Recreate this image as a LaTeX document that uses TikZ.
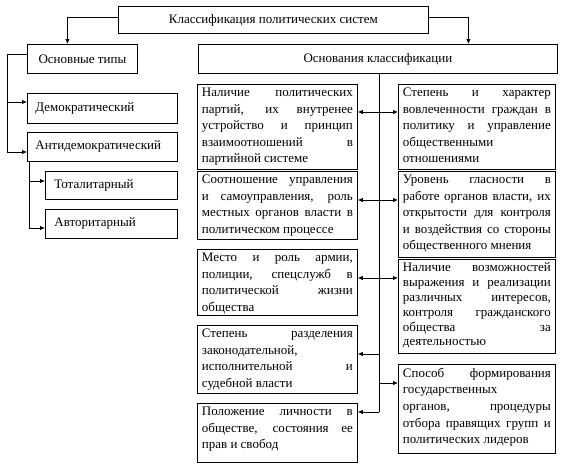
\documentclass[tikz,border=0pt]{standalone}
\usepackage{fontspec}
\setmainfont{Liberation Serif}
\usetikzlibrary{arrows.meta}
\newcommand\jl[1]{\makebox[\linewidth][s]{#1}\\}
\newcommand\tbox[6]{\node[box, anchor=north west, inner xsep=4.5pt, inner ysep=0pt] (#1) at (#2,#3) {\parbox[c][#5pt][t]{\dimexpr#4pt-9pt\relax}{\vspace*{3.5pt}#6}};}
\tikzset{
  box/.style={draw=black, line width=0.8pt, fill=white, font=\fontsize{13}{16.6}\selectfont},
  arr/.style={line width=0.8pt, -{Latex[length=5pt,width=4.5pt]}},
  dbl/.style={line width=0.8pt, {Latex[length=5pt,width=4.5pt]}-{Latex[length=5pt,width=4.5pt]}},
  ln/.style={line width=0.8pt}
}
\begin{document}
\begin{tikzpicture}[x=1pt,y=-1pt]
\useasboundingbox[fill=white] (0,0) rectangle (563,467);
% headers
\node[box, anchor=north west, minimum width=310pt, minimum height=27pt] (top) at (118,6) {Классификация политических систем};
\node[box, anchor=north west, minimum width=110pt, minimum height=29pt] (types) at (27,44) {Основные типы};
\node[box, anchor=north west, minimum width=359pt, minimum height=29pt] (osnov) at (198,44) {Основания классификации};
% left types
\node[box, anchor=north west, minimum height=30pt, inner xsep=8pt, text width=134pt, align=left] (dem) at (27,93) {Демократический};
\node[box, anchor=north west, minimum height=29pt, inner xsep=8pt, text width=134pt, align=left] (anti) at (27,132) {Антидемократический};
\node[box, anchor=north west, minimum height=28pt, inner xsep=9pt, text width=114pt, align=left] (tot) at (45,171) {Тоталитарный};
\node[box, anchor=north west, minimum height=29pt, inner xsep=9pt, text width=114pt, align=left] (avt) at (45,209) {Авторитарный};
% criteria boxes
\tbox{l1}{197}{84}{160}{85}{\jl{Наличие политических}\jl{партий, их внутренее}\jl{устройство и принцип}\jl{взаимоотношений в}партийной системе}
\tbox{r1}{398}{84}{157}{85}{\jl{Степень и характер}\jl{вовлеченности граждан в}\jl{политику и управление}общественными\\отношениями}
\tbox{l2}{197}{171}{160}{68}{\jl{Соотношение управления}\jl{и самоуправления, роль}\jl{местных органов власти в}политическом процессе}
\tbox{r2}{398}{171}{157}{86}{\jl{Уровень гласности в}\jl{работе органов власти, их}\jl{открытости для контроля}\jl{и воздействия со стороны}общественного мнения}
\tbox{l3}{197}{249}{160}{66}{\jl{Место и роль армии,}\jl{полиции, спецслужб в}\jl{политической жизни}общества}
\tbox{r3}{398}{259}{157}{94}{\fontsize{13}{14.8}\selectfont\jl{Наличие возможностей}\jl{выражения и реализации}\jl{различных интересов,}\jl{контроля гражданского}\jl{общества за}деятельностью}
\tbox{l4}{197}{325}{160}{68}{\jl{Степень разделения}законодательной,\\\jl{исполнительной и}судебной власти}
\tbox{r4}{398}{364}{157}{89}{\jl{Способ формирования}государственных\\\jl{органов, процедуры}\jl{отбора правящих групп и}политических лидеров}
\tbox{l5}{197}{403}{160}{59}{\jl{Положение личности в}\jl{обществе, состояния ее}прав и свобод}
% top connectors
\draw[arr] ([yshift=3pt]top.west) -| ([xshift=-15pt]types.north);
\draw[arr] ([yshift=3pt]top.east) -| ([xshift=90.5pt]osnov.north);
% left tree
\coordinate (tL) at (7,54);
\coordinate (tD) at (7,102);
\coordinate (tB) at (7,152);
\draw[ln] (types.west |- tL) -- (tL) -- (tB);
\draw[arr] (tD) -- (tD -| dem.west);
\draw[arr] (tB) -- (tB -| anti.west);
\coordinate (sA) at (29,181);
\coordinate (sB) at (29,228);
\draw[ln] (anti.south -| sA) -- (sB);
\draw[arr] (sA) -- (sA -| tot.west);
\draw[arr] (sB) -- (sB -| avt.west);
% center spine
\coordinate (cE) at (379,412);
\coordinate (y1) at (379,112);
\coordinate (y2) at (379,200);
\coordinate (y3) at (379,278);
\coordinate (y4) at (379,354);
\coordinate (y5) at (379,383);
\draw[ln] (osnov.south -| cE) -- (cE);
\draw[dbl] (y1 -| l1.east) -- (y1 -| r1.west);
\draw[dbl] (y2 -| l2.east) -- (y2 -| r2.west);
\draw[dbl] (y3 -| l3.east) -- (y3 -| r3.west);
\draw[arr] (y4) -- (y4 -| l4.east);
\draw[arr] (y5) -- (y5 -| r4.west);
\draw[arr] (cE) -- (cE -| l5.east);
\end{tikzpicture}
\end{document}
